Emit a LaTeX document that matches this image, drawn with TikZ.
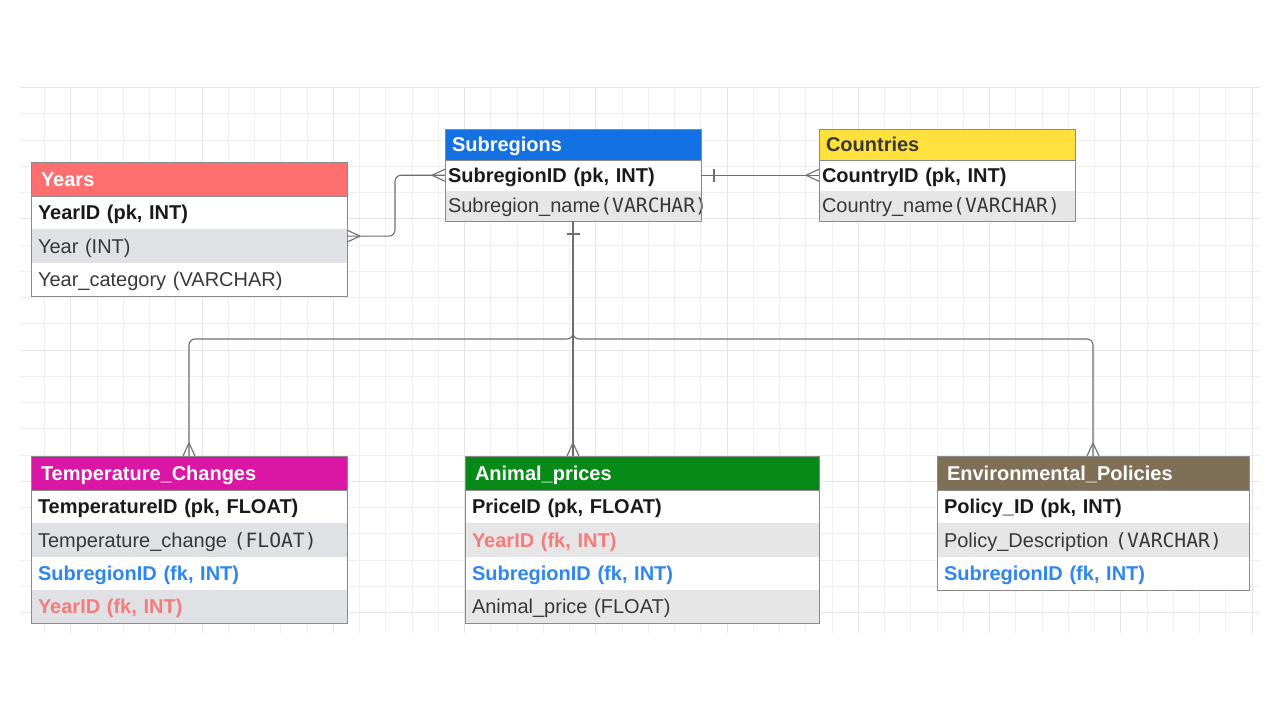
\documentclass[tikz,border=0pt]{standalone}
\usepackage{fontspec}
\setmainfont{Liberation Sans}
\newfontfamily\monof{DejaVu Sans Mono}
\definecolor{cyears}{HTML}{FF6F6F}
\definecolor{csubr}{HTML}{1371E3}
\definecolor{ccoun}{HTML}{FFE03D}
\definecolor{ctemp}{HTML}{DC16A4}
\definecolor{canim}{HTML}{078A17}
\definecolor{cenv}{HTML}{7E6F56}
\definecolor{rowgrayb}{HTML}{DFE1E5}
\definecolor{rowgray}{HTML}{E6E6E6}
\definecolor{pktext}{HTML}{1A1A1A}
\definecolor{normtext}{HTML}{383838}
\definecolor{fkblue}{HTML}{2E86EE}
\definecolor{fkred}{HTML}{F47C7C}
\definecolor{tbord}{HTML}{8A8A8A}
\definecolor{connc}{HTML}{6E6E6E}
\definecolor{gminor}{HTML}{EFEFEF}
\definecolor{gmajor}{HTML}{E6E6E6}
\newcommand\cellfont{\fontsize{20}{24}\selectfont}
\newcommand\mtype[1]{{\monof\fontsize{19.7}{24}\selectfont #1}}
\tikzset{
  cell/.style={anchor=north west, inner ysep=0pt, outer sep=0pt, text height=15pt, text depth=1pt, align=left, font=\cellfont, text=normtext},
  hdr/.style={cell, text=white, font=\cellfont\bfseries},
  pk/.style={text=pktext, font=\cellfont\bfseries},
  fkb/.style={text=fkblue, font=\cellfont\bfseries},
  fkr/.style={text=fkred, font=\cellfont\bfseries},
  yh/.style={hdr, minimum width=316pt, text width=296pt, inner xsep=10pt, minimum height=34pt},
  yr/.style={cell, minimum width=316pt, text width=302pt, inner xsep=7pt, minimum height=33.4pt},
  sh/.style={hdr, minimum width=256pt, text width=242pt, inner xsep=7pt, minimum height=31pt},
  sr/.style={cell, minimum width=256pt, text width=250pt, inner xsep=3pt, minimum height=30.5pt},
  ah/.style={hdr, minimum width=354pt, text width=334pt, inner xsep=10pt, minimum height=34pt},
  ar/.style={cell, minimum width=354pt, text width=340pt, inner xsep=7pt, minimum height=33.4pt},
  eh/.style={hdr, minimum width=312pt, text width=292pt, inner xsep=10pt, minimum height=34pt},
  er/.style={cell, minimum width=312pt, text width=298pt, inner xsep=7pt, minimum height=33.4pt},
  tborder/.style={draw=tbord, line width=1pt},
  conn/.style={draw=connc, line width=1.1pt},
  gridmin/.style={draw=gminor, line width=1pt},
  gridmaj/.style={draw=gmajor, line width=1pt},
  crow/.pic={\draw[conn] (-13,0) -- (0,6) (-13,0) -- (0,-6);},
  onebar/.pic={\draw[conn] (0,-6.5) -- (0,6.5);}
}
\begin{document}
\begin{tikzpicture}[x=1pt,y=-1pt]
\useasboundingbox (0,0) rectangle (1280,720);
\fill[white] (0,0) rectangle (1280,720);
% grid
\foreach \k in {-6,...,40} \draw[gridmin] ({202+\k*26.25},88) -- ({202+\k*26.25},633);
\foreach \k in {-10,...,10} \draw[gridmin] (20,{350+\k*26.25}) -- (1260,{350+\k*26.25});
\foreach \k in {-1,...,8} \draw[gridmaj] ({202+\k*131.25},88) -- ({202+\k*131.25},633);
\foreach \k in {-2,...,2} \draw[gridmaj] (20,{350+\k*131.25}) -- (1260,{350+\k*131.25});

% Years
\node[yh, fill=cyears] (years-h) at (31,162) {Years};
\node[yr, pk, fill=white] (years-1) at (years-h.south west) {YearID (pk, INT)};
\node[yr, fill=rowgrayb] (years-2) at (years-1.south west) {Year (INT)};
\node[yr, fill=white] (years-3) at (years-2.south west) {Year\_category (VARCHAR)};
\draw[tborder] (years-h.north west) rectangle (years-3.south east);
\draw[tborder] (years-h.south west) -- (years-h.south east);

% Subregions
\node[sh, fill=csubr] (subr-h) at (445,129) {Subregions};
\node[sr, pk, fill=white] (subr-1) at (subr-h.south west) {SubregionID (pk, INT)};
\node[sr, fill=rowgray] (subr-2) at (subr-1.south west) {\mbox{Subregion\_name\mtype{(VARCHAR)}}};
\draw[tborder] (subr-h.north west) rectangle (subr-2.south east);
\draw[tborder] (subr-h.south west) -- (subr-h.south east);

% Countries
\node[sh, fill=ccoun, text=normtext] (coun-h) at (819,129) {Countries};
\node[sr, pk, fill=white] (coun-1) at (coun-h.south west) {CountryID (pk, INT)};
\node[sr, fill=rowgray] (coun-2) at (coun-1.south west) {\mbox{Country\_name\mtype{(VARCHAR)}}};
\draw[tborder] (coun-h.north west) rectangle (coun-2.south east);
\draw[tborder] (coun-h.south west) -- (coun-h.south east);

% Temperature_Changes
\node[yh, fill=ctemp] (temp-h) at (31,456) {Temperature\_Changes};
\node[yr, pk, fill=white] (temp-1) at (temp-h.south west) {TemperatureID (pk, FLOAT)};
\node[yr, fill=rowgrayb] (temp-2) at (temp-1.south west) {\mbox{Temperature\_change \mtype{(FLOAT)}}};
\node[yr, fkb, fill=white] (temp-3) at (temp-2.south west) {SubregionID (fk, INT)};
\node[yr, fkr, fill=rowgrayb] (temp-4) at (temp-3.south west) {YearID (fk, INT)};
\draw[tborder] (temp-h.north west) rectangle (temp-4.south east);
\draw[tborder] (temp-h.south west) -- (temp-h.south east);

% Animal_prices
\node[ah, fill=canim] (anim-h) at (465,456) {Animal\_prices};
\node[ar, pk, fill=white] (anim-1) at (anim-h.south west) {PriceID (pk, FLOAT)};
\node[ar, fkr, fill=rowgray] (anim-2) at (anim-1.south west) {YearID (fk, INT)};
\node[ar, fkb, fill=white] (anim-3) at (anim-2.south west) {SubregionID (fk, INT)};
\node[ar, fill=rowgray] (anim-4) at (anim-3.south west) {Animal\_price (FLOAT)};
\draw[tborder] (anim-h.north west) rectangle (anim-4.south east);
\draw[tborder] (anim-h.south west) -- (anim-h.south east);

% Environmental_Policies
\node[eh, fill=cenv] (envp-h) at (937,456) {Environmental\_Policies};
\node[er, pk, fill=white] (envp-1) at (envp-h.south west) {Policy\_ID (pk, INT)};
\node[er, fill=rowgray] (envp-2) at (envp-1.south west) {\mbox{Policy\_Description \mtype{(VARCHAR)}}};
\node[er, fkb, fill=white] (envp-3) at (envp-2.south west) {SubregionID (fk, INT)};
\draw[tborder] (envp-h.north west) rectangle (envp-3.south east);
\draw[tborder] (envp-h.south west) -- (envp-h.south east);

% connectors
\draw[conn, rounded corners=6pt] ([yshift=10pt]years-2.east) -- ++(48,0) |- (subr-1.west);
\draw[conn] (subr-1.east) -- (coun-1.west);
\draw[conn, rounded corners=6pt] (subr-2.south) -- ++(0,118) -| (temp-h.north);
\draw[conn, rounded corners=6pt] (subr-2.south) -- ++(0,118) -| (envp-h.north);
\draw[conn] (subr-2.south) -- (subr-2.south |- anim-h.north);

% ends
\pic at (subr-1.west) {crow};
\pic[rotate=180] at ([yshift=10pt]years-2.east) {crow};
\pic at (coun-1.west) {crow};
\pic[rotate=-90] at (temp-h.north) {crow};
\pic[rotate=-90] at (subr-2.south |- anim-h.north) {crow};
\pic[rotate=-90] at (envp-h.north) {crow};
\pic at ([xshift=13pt]subr-1.east) {onebar};
\pic[rotate=90] at ([yshift=-13pt]subr-2.south) {onebar};
\end{tikzpicture}
\end{document}
